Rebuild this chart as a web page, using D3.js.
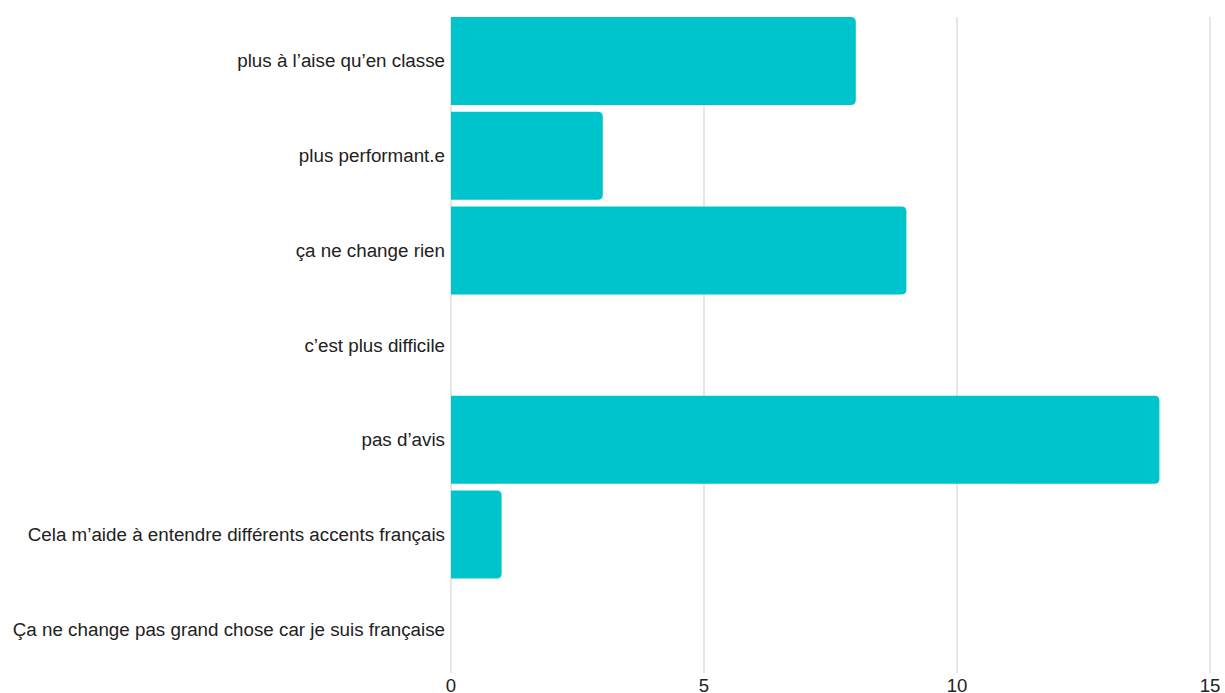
<!DOCTYPE html>
<html><head><meta charset="utf-8">
<script src="https://cdn.jsdelivr.net/npm/d3@7"></script>
<style>html,body{margin:0;padding:0;background:#fff;}svg{display:block;font-family:"Liberation Sans",Arial,sans-serif;}</style>
</head><body>
<svg id="chart" width="1225" height="693"></svg>
<script>
const categories = [
  "plus à l’aise qu’en classe",
  "plus performant.e",
  "ça ne change rien",
  "c’est plus difficile",
  "pas d’avis",
  "Cela m’aide à entendre différents accents français",
  "Ça ne change pas grand chose car je suis française"
];
const values = [8, 3, 9, 0, 14, 1, 0];
const xTicks = [0, 5, 10, 15];

const svg = d3.select("#chart");
const x = d3.scaleLinear().domain([0, 15]).range([451, 1210]);
const y = d3.scaleBand().domain(categories).range([10.3, 679.9]).padding(0.0707);

const gTop = y(categories[0]);
const gBot = y(categories[categories.length-1]) + y.bandwidth();

// gridlines
svg.append("g").selectAll("line").data(xTicks).join("line")
  .attr("x1", d => x(d)).attr("x2", d => x(d))
  .attr("y1", gTop).attr("y2", gBot)
  .attr("stroke", "#dadada").attr("stroke-width", 1.3);

// bars
const r = 5;
function barPath(x0, y0, w, h) {
  if (w <= 0) return "";
  const rr = Math.min(r, w, h/2);
  return `M${x0},${y0}H${x0+w-rr}Q${x0+w},${y0} ${x0+w},${y0+rr}V${y0+h-rr}Q${x0+w},${y0+h} ${x0+w-rr},${y0+h}H${x0}Z`;
}
svg.append("g").selectAll("path").data(categories).join("path")
  .attr("d", (c, i) => barPath(x(0), y(c), x(values[i]) - x(0), y.bandwidth()))
  .attr("fill", "#00c4cc");

// category labels
svg.append("g").selectAll("text").data(categories).join("text")
  .attr("x", 445).attr("y", c => y(c) + y.bandwidth()/2)
  .attr("text-anchor", "end").attr("dominant-baseline", "central")
  .attr("font-size", 18.8).attr("fill", "#222")
  .text(c => c);

// x tick labels
svg.append("g").selectAll("text").data(xTicks).join("text")
  .attr("x", d => x(d)).attr("y", 691.5)
  .attr("text-anchor", "middle")
  .attr("font-size", 18.6).attr("fill", "#222")
  .text(d => d);
</script>
</body></html>
